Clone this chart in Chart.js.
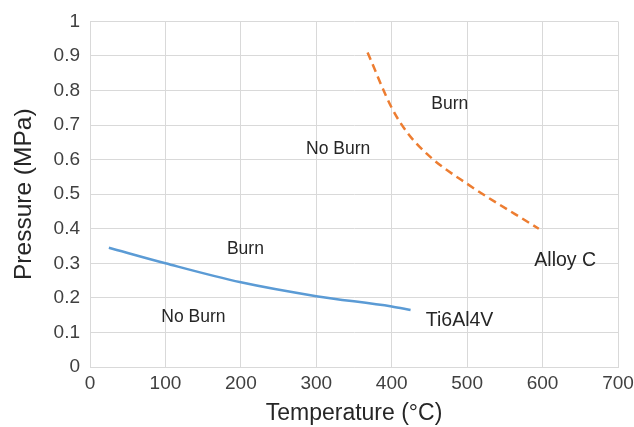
<!DOCTYPE html>
<html>
<head>
<meta charset="utf-8">
<script src="https://cdn.jsdelivr.net/npm/chart.js@4/dist/chart.umd.min.js"></script>
<style>
  html, body { margin: 0; padding: 0; background: #fff; }
  #wrap { width: 634px; height: 427px; }
</style>
</head>
<body>
<div id="wrap"><canvas id="burnChart" width="634" height="427"></canvas></div>
<script>
// Ti6Al4V burn limit (temperature °C, pressure MPa)
const tiTemp = [25, 100, 200, 300, 400, 425];
const tiPressure = [0.345, 0.30, 0.245, 0.205, 0.175, 0.165];

// Alloy C burn limit
const alloyTemp = [368, 400, 420, 450, 500, 595];
const alloyPressure = [0.91, 0.75, 0.68, 0.61, 0.53, 0.40];

// region labels (Burn / No Burn)
const regionText = ['Burn', 'No Burn', 'Burn', 'No Burn'];
const regionTemp = [477, 329, 206, 137];
const regionPressure = [0.76, 0.63, 0.342, 0.143];

// series name labels
const seriesText = ['Ti6Al4V', 'Alloy C'];
const seriesTemp = [490, 630];
const seriesPressure = [0.133, 0.307];

const xTicks = [0, 100, 200, 300, 400, 500, 600, 700];
const yTicks = [0, 0.1, 0.2, 0.3, 0.4, 0.5, 0.6, 0.7, 0.8, 0.9, 1];

const FONT = '"Liberation Sans", Arial, sans-serif';
const toPoints = (xs, ys) => xs.map((x, i) => ({ x: x, y: ys[i] }));

// draws the text labels at data coordinates
const notesPlugin = {
  id: 'notes',
  afterDatasetsDraw(chart) {
    const ctx = chart.ctx;
    const xs = chart.scales.x;
    const ys = chart.scales.y;
    ctx.save();
    ctx.fillStyle = '#262626';
    ctx.textAlign = 'center';
    ctx.textBaseline = 'middle';
    ctx.font = '17.5px ' + FONT;
    regionText.forEach((t, i) => {
      ctx.fillText(t, xs.getPixelForValue(regionTemp[i]), ys.getPixelForValue(regionPressure[i]));
    });
    ctx.font = '19.5px ' + FONT;
    seriesText.forEach((t, i) => {
      ctx.fillText(t, xs.getPixelForValue(seriesTemp[i]), ys.getPixelForValue(seriesPressure[i]));
    });
    ctx.restore();
  }
};

const ctx = document.getElementById('burnChart').getContext('2d');
new Chart(ctx, {
  type: 'line',
  data: {
    datasets: [
      {
        label: 'Ti6Al4V',
        data: toPoints(tiTemp, tiPressure),
        borderColor: '#5b9bd5',
        borderWidth: 2.5,
        pointRadius: 0,
        cubicInterpolationMode: 'monotone',
        fill: false,
      },
      {
        label: 'Alloy C',
        data: toPoints(alloyTemp, alloyPressure),
        borderColor: '#ed7d31',
        borderWidth: 2.5,
        borderDash: [8, 5],
        pointRadius: 0,
        cubicInterpolationMode: 'monotone',
        fill: false,
      },
    ],
  },
  options: {
    responsive: false,
    animation: false,
    layout: { padding: { top: 14, right: 0, left: 0, bottom: 0 } },
    plugins: {
      legend: { display: false },
      tooltip: { enabled: false },
    },
    scales: {
      x: {
        type: 'linear',
        min: 0,
        max: 700,
        afterBuildTicks: (axis) => { axis.ticks = xTicks.map(v => ({ value: v })); },
        afterFit: (axis) => {
          axis.height = 60;
          axis.paddingLeft = 0;
          axis.paddingRight = 16;
        },
        ticks: {
          color: '#404040',
          font: { family: FONT, size: 19 },
          padding: 5,
        },
        grid: { color: '#d9d9d9', lineWidth: 1, drawTicks: false },
        border: { color: '#d9d9d9' },
        title: {
          display: true,
          text: 'Temperature (°C)',
          color: '#262626',
          font: { family: FONT, size: 23 },
          padding: { top: 0, bottom: 0 },
        },
      },
      y: {
        type: 'linear',
        min: 0,
        max: 1,
        afterBuildTicks: (axis) => { axis.ticks = yTicks.map(v => ({ value: v })); },
        afterFit: (axis) => { axis.width = 90; },
        ticks: {
          color: '#404040',
          font: { family: FONT, size: 19 },
          padding: 10,
          callback: (v) => String(Math.round(v * 10) / 10),
        },
        grid: { color: '#d9d9d9', lineWidth: 1, drawTicks: false },
        border: { color: '#d9d9d9' },
        title: {
          display: true,
          text: 'Pressure (MPa)',
          color: '#262626',
          font: { family: FONT, size: 24.5 },
          padding: { top: 10, bottom: 0 },
        },
      },
    },
  },
  plugins: [notesPlugin],
});
</script>
</body>
</html>
